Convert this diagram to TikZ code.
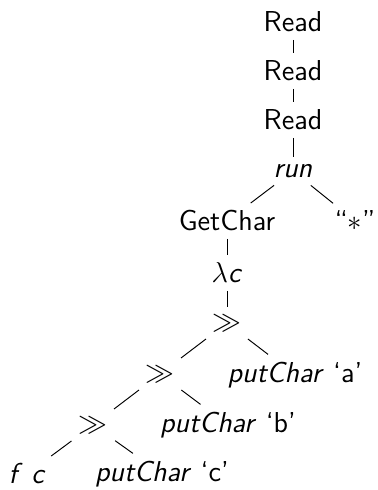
\documentclass[tikz,border=0pt]{standalone}
\begin{document}
\begin{tikzpicture}[x=0.4167pt,y=-0.4167pt,
  every node/.style={font=\sffamily\fontsize{12}{14.4}\selectfont, inner sep=3pt},
  link/.style={draw, line width=0.4pt}]
\useasboundingbox (0,0) rectangle (377,490);
% spine of the term
\node (r1) at (293,22) {Read};
\node (r2) at (293,71) {Read};
\node (r3) at (293,120) {Read};
\node (run) at (293,171) {\textit{run}};
\node (gc) at (227,221) {GetChar};
\node (star) at (355,221) {``$*$''};
\node (lam) at (227,273) {$\lambda$\textit{c}};
% chain of sequencing operators
\node (s1) at (227,323) {$\gg$};
\node (s2) at (160,374) {$\gg$};
\node (pa) at (295,375) {\textit{putChar} `a'};
\node (s3) at (93,425) {$\gg$};
\node (pb) at (228,425) {\textit{putChar} `b'};
\node (fc) at (27,474) {\textit{f\, c}};
\node (pc) at (162,474) {\textit{putChar} `c'};
\path[link] (r1) -- (r2);
\path[link] (r2) -- (r3);
\path[link] (r3) -- (run);
\path[link] (run) -- (gc);
\path[link] (run) -- (star);
\path[link] (gc) -- (lam);
\path[link] (lam) -- (s1);
\path[link] (s1) -- (s2);
\path[link] (s1) -- (pa);
\path[link] (s2) -- (s3);
\path[link] (s2) -- (pb);
\path[link] (s3) -- (fc);
\path[link] (s3) -- (pc);
\end{tikzpicture}
\end{document}
